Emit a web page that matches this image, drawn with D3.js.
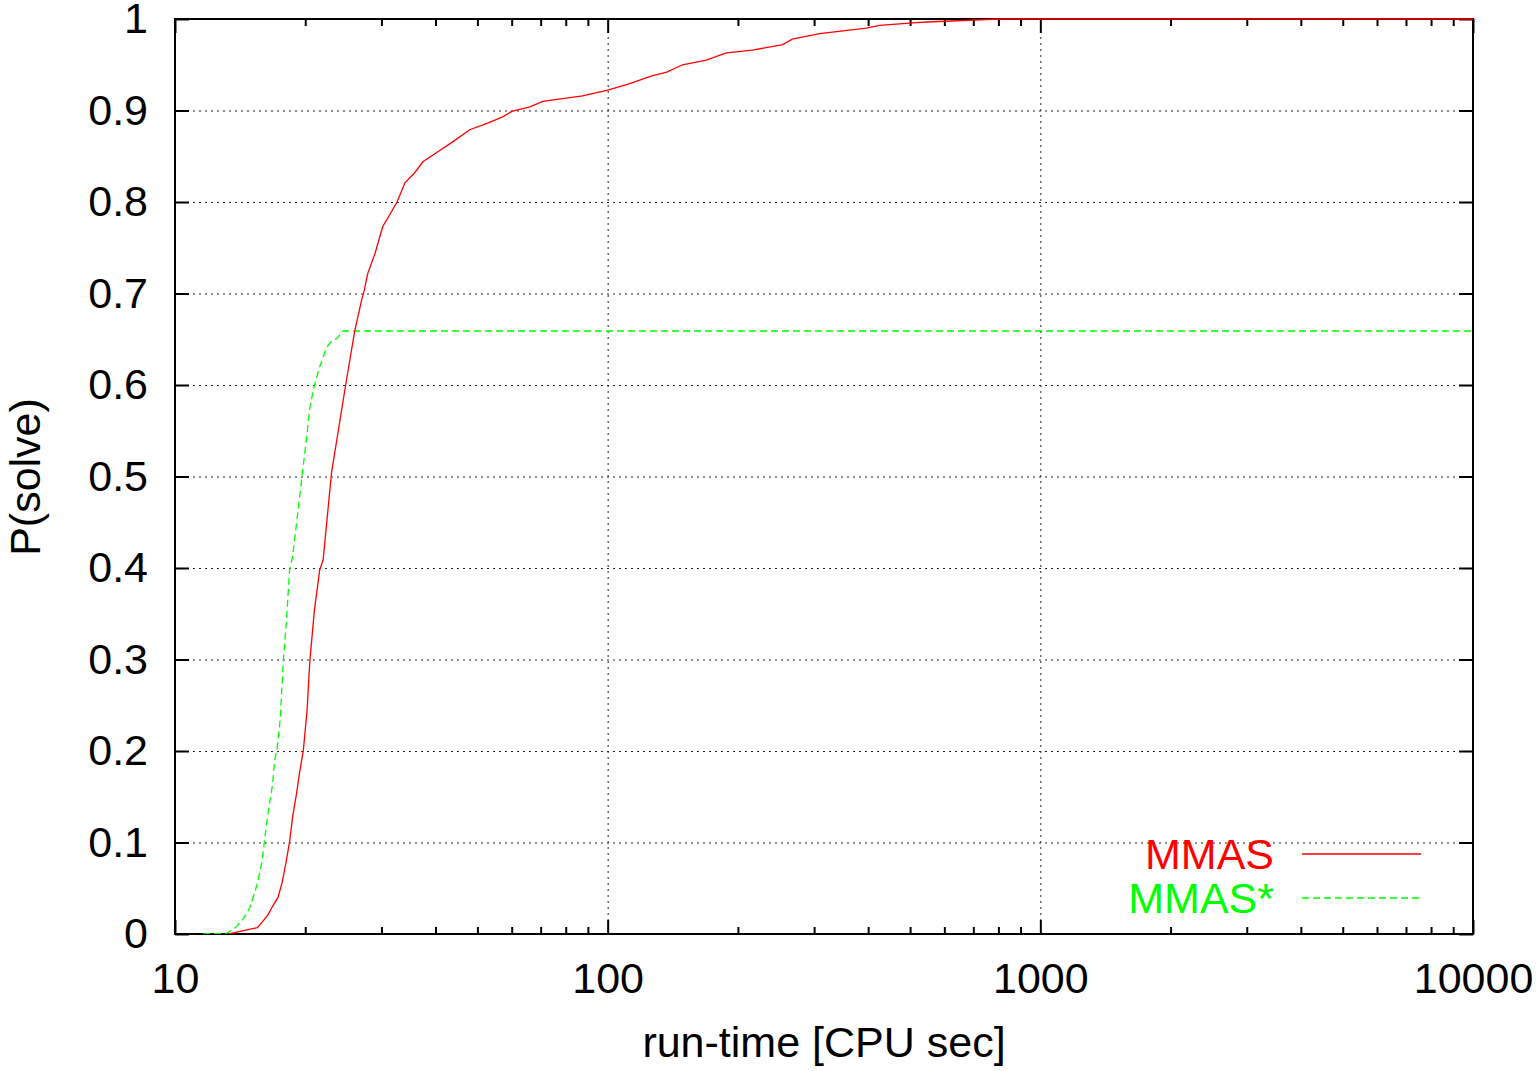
<!DOCTYPE html>
<html>
<head>
<meta charset="utf-8">
<script src="https://cdn.jsdelivr.net/npm/d3@7"></script>
<style>
  body { margin: 0; background: #fff; }
  text { font-family: "Liberation Sans", Arial, sans-serif; }
</style>
</head>
<body>
<script>
// run-time distributions
var mmasTime = [13.3, 15.5, 15.9, 16.4, 16.8, 17.3, 17.7, 18.1, 18.4, 18.7, 19.1, 19.4, 19.8, 20.2, 20.5, 21.0, 21.6, 22.0,
  23.0, 24.8, 26.0, 27.0, 27.3, 27.9, 29.0, 30.2, 32.6, 34.0, 35.8, 37.4, 40.5, 43.9, 48.0, 52.6, 57.2, 60.0, 66.1, 70.8,
  87.5, 99.5, 112, 127, 137, 149, 169, 188, 216, 254, 267, 309, 396, 425, 517, 563, 804, 10000];
var mmasP = [0, 0.007, 0.013, 0.021, 0.030, 0.040, 0.057, 0.081, 0.101, 0.128, 0.154, 0.176, 0.201, 0.245, 0.299, 0.354, 0.398, 0.409,
  0.504, 0.600, 0.658, 0.693, 0.701, 0.722, 0.744, 0.773, 0.800, 0.821, 0.832, 0.844, 0.855, 0.866, 0.879, 0.886, 0.893, 0.899, 0.904, 0.910,
  0.916, 0.922, 0.929, 0.938, 0.942, 0.950, 0.955, 0.963, 0.966, 0.972, 0.978, 0.984, 0.990, 0.993, 0.996, 0.997, 1.0, 1.0];

var starTime = [11.6, 13.2, 13.8, 14.4, 14.9, 15.5, 15.9, 16.1, 16.4, 16.8, 17.0, 17.2, 17.5, 17.8, 18.1, 18.4, 18.7,
  19.7, 20.2, 20.5, 21.0, 21.6, 22.4, 23.1, 23.7, 24.4, 10000];
var starP = [0, 0.001, 0.007, 0.017, 0.029, 0.055, 0.080, 0.102, 0.132, 0.163, 0.190, 0.201, 0.234, 0.299, 0.343, 0.398, 0.412,
  0.504, 0.547, 0.576, 0.600, 0.620, 0.641, 0.649, 0.651, 0.659, 0.659];

var xMajor = [10, 100, 1000, 10000];
var xMinor = [20, 30, 40, 50, 60, 70, 80, 90, 200, 300, 400, 500, 600, 700, 800, 900,
  2000, 3000, 4000, 5000, 6000, 7000, 8000, 9000];
var yTicks = [0, 0.1, 0.2, 0.3, 0.4, 0.5, 0.6, 0.7, 0.8, 0.9, 1];

var series = [
  {name: "MMAS", t: mmasTime, p: mmasP, color: "#ff0000", dash: null},
  {name: "MMAS*", t: starTime, p: starP, color: "#00ff00", dash: "7,4"}
];

var W = 1536, H = 1071;
var pLeft = 175, pRight = 1473, pTop = 19, pBottom = 934;
var fontSize = "43px";

var svg = d3.select("body").append("svg").attr("width", W).attr("height", H);

var x = d3.scaleLog().domain([10, 10000]).range([pLeft, pRight]);
var y = d3.scaleLinear().domain([0, 1]).range([pBottom, pTop]);

// grid
var grid = svg.append("g").attr("stroke", "#222").attr("stroke-width", 1).attr("stroke-dasharray", "2,4");
grid.selectAll("line.h").data(yTicks.slice(1, -1)).enter().append("line")
  .attr("x1", pLeft).attr("x2", pRight)
  .attr("y1", function(d){ return y(d) + 0.5; }).attr("y2", function(d){ return y(d) + 0.5; });
grid.selectAll("line.v").data(xMajor.slice(1, -1)).enter().append("line")
  .attr("y1", pTop).attr("y2", pBottom)
  .attr("x1", function(d){ return x(d) + 0.5; }).attr("x2", function(d){ return x(d) + 0.5; });

// axes, ticks drawn inward
function styleAxis(g) {
  g.select(".domain").remove();
  g.selectAll(".tick line").attr("stroke", "#000").attr("stroke-width", 2);
  g.selectAll(".tick text").attr("fill", "#000").style("font-size", fontSize).attr("font-family", null);
}

svg.append("g").attr("transform", "translate(0," + pBottom + ")")
  .call(d3.axisBottom(x).tickValues(xMajor).tickFormat(d3.format("d")).tickSizeInner(-14).tickSizeOuter(0).tickPadding(28))
  .call(styleAxis);
svg.append("g").attr("transform", "translate(0," + pBottom + ")")
  .call(d3.axisBottom(x).tickValues(xMinor).tickFormat("").tickSizeInner(-7).tickSizeOuter(0))
  .call(styleAxis);
svg.append("g").attr("transform", "translate(0," + pTop + ")")
  .call(d3.axisTop(x).tickValues(xMajor).tickFormat("").tickSizeInner(-14).tickSizeOuter(0))
  .call(styleAxis);
svg.append("g").attr("transform", "translate(0," + pTop + ")")
  .call(d3.axisTop(x).tickValues(xMinor).tickFormat("").tickSizeInner(-7).tickSizeOuter(0))
  .call(styleAxis);
svg.append("g").attr("transform", "translate(" + pLeft + ",0)")
  .call(d3.axisLeft(y).tickValues(yTicks).tickFormat(d3.format("")).tickSizeInner(-14).tickSizeOuter(0).tickPadding(27))
  .call(styleAxis);
svg.append("g").attr("transform", "translate(" + pRight + ",0)")
  .call(d3.axisRight(y).tickValues(yTicks).tickFormat("").tickSizeInner(-14).tickSizeOuter(0))
  .call(styleAxis);

// border
svg.append("rect").attr("x", pLeft).attr("y", pTop).attr("width", pRight - pLeft).attr("height", pBottom - pTop)
  .attr("fill", "none").attr("stroke", "#000").attr("stroke-width", 2);

// curves, drawn over the border like gnuplot does
svg.append("clipPath").attr("id", "clip").append("rect")
  .attr("x", pLeft).attr("y", pTop - 1).attr("width", pRight - pLeft).attr("height", pBottom - pTop + 1);

var line = d3.line()
  .x(function(d){ return x(d[0]); })
  .y(function(d){ return y(d[1]); });

svg.append("g").attr("clip-path", "url(#clip)")
  .selectAll("path").data(series.slice().reverse()).enter().append("path")
  .attr("d", function(s){ return line(d3.zip(s.t, s.p)); })
  .attr("fill", "none")
  .attr("stroke", function(s){ return s.color; })
  .attr("stroke-width", 1.3)
  .attr("stroke-dasharray", function(s){ return s.dash; });

// legend
var legend = svg.append("g").selectAll("g").data(series).enter().append("g")
  .attr("transform", function(s, i){ return "translate(0," + (854 + i * 44) + ")"; });
legend.append("text")
  .attr("x", 1274).attr("dy", "0.35em").attr("text-anchor", "end")
  .style("font-size", fontSize).attr("fill", function(s){ return s.color; })
  .text(function(s){ return s.name; });
legend.append("line")
  .attr("x1", 1302).attr("x2", 1421)
  .attr("stroke", function(s){ return s.color; }).attr("stroke-width", 1.3)
  .attr("stroke-dasharray", function(s){ return s.dash; });

// titles
svg.append("text").attr("x", (pLeft + pRight) / 2).attr("y", 1057).attr("text-anchor", "middle")
  .style("font-size", fontSize).text("run-time [CPU sec]");
svg.append("text").attr("transform", "translate(40,477) rotate(-90)").attr("text-anchor", "middle")
  .style("font-size", fontSize).text("P(solve)");
</script>
</body>
</html>
